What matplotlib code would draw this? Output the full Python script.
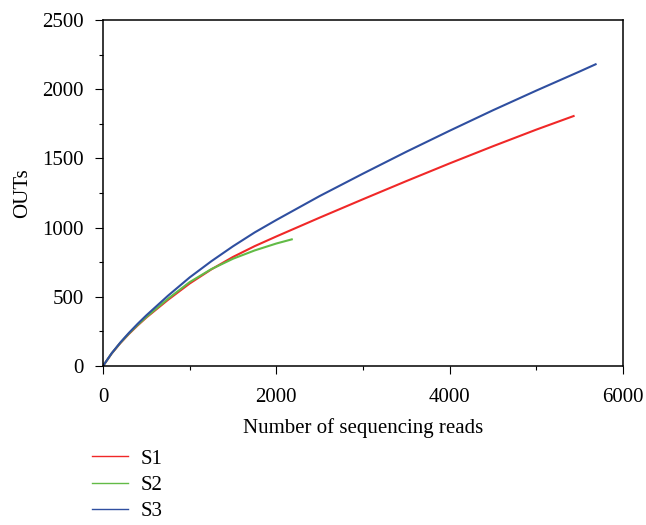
import matplotlib
matplotlib.use('Agg')
import matplotlib.pyplot as plt
from matplotlib.lines import Line2D
from matplotlib.ticker import MultipleLocator

plt.rcParams['font.family'] = ['Liberation Serif', 'DejaVu Serif']

# rarefaction data
s1_reads = [0, 100, 200, 300, 400, 500, 750, 1000, 1250, 1500, 1750, 2000, 2500, 3000, 3500, 4000, 4500, 5000, 5430]
s1_otus = [0, 90, 165, 232, 293, 350, 478, 596, 698, 788, 866, 936, 1072, 1205, 1336, 1464, 1588, 1708, 1806]

s2_reads = [0, 100, 200, 300, 400, 500, 750, 1000, 1250, 1500, 1750, 2000, 2178]
s2_otus = [0, 91, 167, 235, 297, 354, 486, 606, 700, 775, 835, 885, 915]

s3_reads = [0, 100, 200, 300, 400, 500, 750, 1000, 1250, 1500, 1750, 2000, 2500, 3000, 3500, 4000, 4500, 5000, 5500, 5684]
s3_otus = [0, 92, 170, 240, 305, 366, 508, 640, 757, 865, 965, 1055, 1228, 1390, 1548, 1700, 1848, 1990, 2128, 2180]

names = ['S1', 'S2', 'S3']
colors = ['#f02828', '#62bb46', '#2f4fa0']

fig = plt.figure(figsize=(6.46, 5.25), dpi=100)
ax = fig.add_axes([103 / 646, 1 - 366 / 525, 520 / 646, 346 / 525])

for xs, ys, c in zip([s1_reads, s2_reads, s3_reads], [s1_otus, s2_otus, s3_otus], colors):
    ax.plot(xs, ys, color=c, lw=1.5, solid_joinstyle='round')

ax.set_xlim(0, 6000)
ax.set_ylim(0, 2500)
ax.xaxis.set_major_locator(MultipleLocator(2000))
ax.xaxis.set_minor_locator(MultipleLocator(1000))
ax.yaxis.set_major_locator(MultipleLocator(500))
ax.yaxis.set_minor_locator(MultipleLocator(250))
ax.tick_params(which='major', direction='out', length=5.8, width=0.8, labelsize=15)
ax.tick_params(axis='x', which='major', pad=10)
ax.tick_params(axis='y', which='major', pad=8)
ax.tick_params(which='minor', direction='out', length=2.9, width=0.8)
for sp in ax.spines.values():
    sp.set_linewidth(1.1)

ax.set_xlabel('Number of sequencing reads', fontsize=15, labelpad=8)
ax.set_ylabel('OUTs', fontsize=15, labelpad=7)

handles = [Line2D([], [], color=c, lw=1.0) for c in colors]
fig.legend(handles, names, loc='upper left', bbox_to_anchor=(92 / 646, 1 - 449 / 525),
           frameon=False, fontsize=15, handlelength=1.73, handletextpad=0.62,
           labelspacing=0.32, borderpad=0, borderaxespad=0)

fig.savefig('out.png', dpi=100)
